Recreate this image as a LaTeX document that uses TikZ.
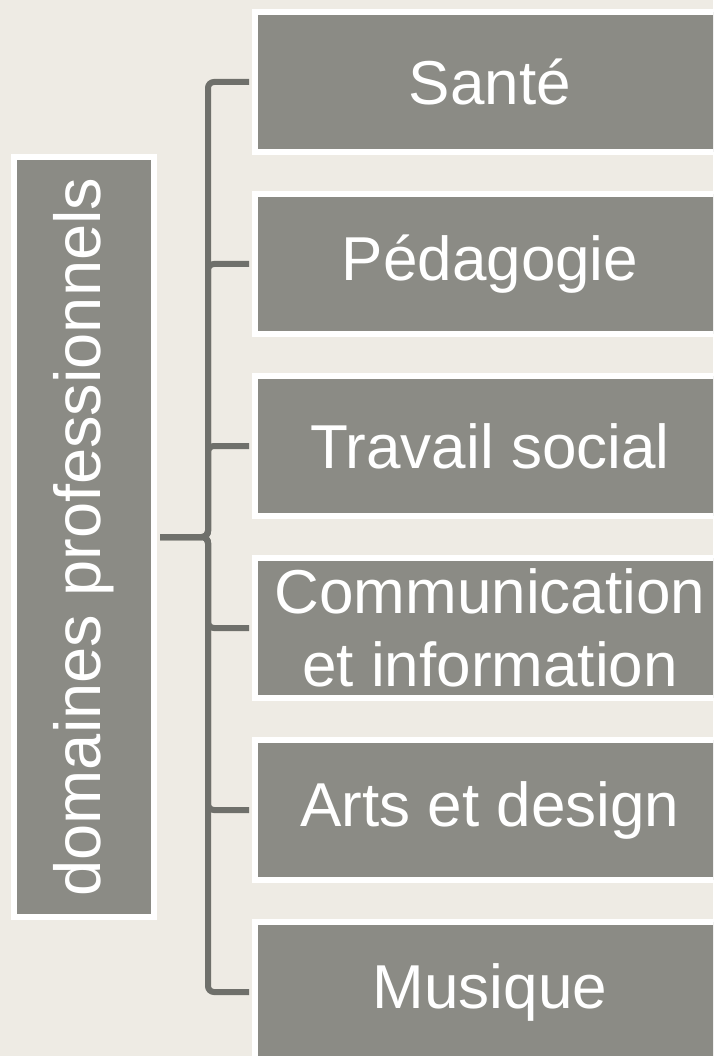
\documentclass[tikz,border=0pt]{standalone}
\usepackage{fontspec}
\setmainfont{Liberation Sans}
\usepackage{tikz}

\definecolor{paper}{HTML}{EEEBE4}
\definecolor{boxgray}{HTML}{8B8B85}
\definecolor{linkgray}{HTML}{6F706B}

\tikzset{
  fieldbox/.style={draw=white, line width=6pt, fill=boxgray, text=white,
    minimum width=470pt, minimum height=140pt, inner sep=0pt, align=center,
    font=\fontsize{62}{73}\selectfont},
  link/.style={draw=linkgray, line width=6pt, rounded corners=6pt,
    shorten <=3pt, shorten >=3pt}
}

\begin{document}
\begin{tikzpicture}[x=1pt, y=-1pt]
	% page
	\useasboundingbox (0,0) rectangle (713,1056);
	\clip (0,0) rectangle (713,1056);
	\fill[paper] (0,0) rectangle (713,1056);
	
	% root, written upwards
	\node[fieldbox, rotate=90, minimum width=760pt, minimum height=140pt,
		font=\fontsize{65}{76}\selectfont] (root) at (84,537) {domaines professionnels};
	
	% the six fields
	\node[fieldbox] (sante) at (490,82) {Santé};
	\node[fieldbox] (peda) at (490,264) {Pédagogie};
	\node[fieldbox] (social) at (490,446) {Travail social};
	\node[fieldbox] (comm) at (490,628) {Communication\\et information};
	\node[fieldbox] (arts) at (490,810) {Arts et design};
	\node[fieldbox] (musique) at (490,992) {Musique};
	
	% links
	\foreach \child in {sante,peda,social,comm,arts,musique}
		\draw[link] (root.south) -- ++(51,0) |- (\child.west);
\end{tikzpicture}
\end{document}
